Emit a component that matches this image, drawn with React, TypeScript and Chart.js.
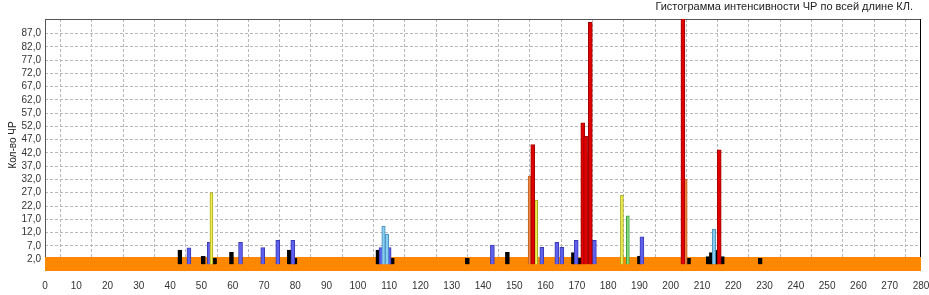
import React, { useEffect, useRef } from 'react';
import { Chart, registerables } from 'chart.js';

Chart.register(...registerables);

const titleText = 'Гистограмма интенсивности ЧР по всей длине КЛ.';
const yAxisTitle = 'Кол-во ЧР';

const yTickValues = [2, 7, 12, 17, 22, 27, 32, 37, 42, 47, 52, 57, 62, 67, 72, 77, 82, 87];
const xMin = 0;
const xMax = 280;
const xStep = 10;
const yMin = -2.5;
const yMax = 92.5;

// background noise level (orange band across the full length)
const noiseX = [0, 280];
const noiseY = [2.75, 2.75];

const blackX = [43.1, 50.6, 54.2, 59.6, 78.1, 79.9, 106.4, 111.0, 135.0, 147.8, 168.9, 170.8, 190.0, 205.7, 212.0, 213.0, 214.6, 216.5, 228.6];
const blackY = [5.4, 3.0, 2.3, 4.5, 5.4, 2.3, 5.4, 2.3, 2.3, 4.5, 4.4, 2.3, 3.1, 2.3, 2.9, 4.4, 5.4, 2.9, 2.3];

const blueX = [46.0, 52.5, 62.5, 69.6, 74.4, 79.2, 107.4, 110.0, 143.0, 158.8, 163.6, 165.2, 169.8, 175.6, 190.8];
const blueY = [6.2, 8.3, 8.3, 6.3, 9.1, 9.1, 6.3, 6.3, 7.3, 6.4, 8.3, 6.4, 9.1, 9.1, 10.4];

const lightBlueX = [108.2, 109.3, 213.8];
const lightBlueY = [14.4, 11.4, 13.3];

const redX = [155.9, 171.9, 172.8, 174.3, 203.9, 215.5];
const redY = [45.2, 53.4, 48.3, 91.2, 93, 43.2];

const orangeX = [154.9, 173.4, 204.8];
const orangeY = [33.3, 41.0, 32.1];

const yellowX = [53.2, 157.0, 184.4];
const yellowY = [27.1, 24.2, 26.1];

const greenX = [186.3];
const greenY = [18.3];

const pts = (xs: number[], ys: number[]) => xs.map((x, i) => ({ x, y: ys[i] }));

const barSet = (xs: number[], ys: number[], bg: string, border: string, thickness: number) => ({
  type: 'bar' as const,
  data: pts(xs, ys),
  backgroundColor: bg,
  borderColor: border,
  borderWidth: 1,
  barThickness: thickness,
  grouped: false,
  order: 1,
});

const FONT = "'Liberation Sans', Arial, sans-serif";

const framePlugin = {
  id: 'frame',
  beforeDatasetsDraw(chart: any) {
    const { ctx, chartArea: a } = chart;
    ctx.save();
    ctx.strokeStyle = '#555555';
    ctx.lineWidth = 1;
    ctx.strokeRect(a.left + 0.5, a.top + 0.5, a.right - a.left - 1, a.bottom - a.top - 1);
    ctx.strokeStyle = '#000000';
    ctx.beginPath();
    ctx.moveTo(a.right - 0.5, a.top);
    ctx.lineTo(a.right - 0.5, a.bottom);
    ctx.stroke();
    ctx.restore();
  },
};

const titlePlugin = {
  id: 'topTitle',
  afterDraw(chart: any) {
    const { ctx, chartArea: a } = chart;
    ctx.save();
    ctx.fillStyle = '#222222';
    ctx.font = `11px ${FONT}`;
    ctx.textAlign = 'right';
    ctx.textBaseline = 'middle';
    ctx.fillText(titleText, a.right - 8, 6.5);
    ctx.restore();
  },
};

export default function App() {
  const ref = useRef<HTMLCanvasElement | null>(null);

  useEffect(() => {
    if (!ref.current) return;
    const chart = new Chart(ref.current, {
      type: 'bar',
      data: {
        datasets: [
          barSet(redX, redY, '#e00000', '#a00000', 4),
          barSet(yellowX, yellowY, '#f0f050', '#a8a820', 3),
          barSet(greenX, greenY, '#80e080', '#40a040', 3),
          barSet(lightBlueX, lightBlueY, '#88ccf0', '#4a90c0', 3.5),
          barSet(orangeX, orangeY, '#ee8844', '#c06020', 3),
          barSet(blueX, blueY, '#6060f0', '#3a3ab0', 4),
          barSet(blackX, blackY, '#000000', '#000000', 4),
          {
            type: 'line' as const,
            data: pts(noiseX, noiseY),
            borderWidth: 0,
            borderColor: '#ff8800',
            backgroundColor: '#ff8800',
            pointRadius: 0,
            fill: 'start',
            order: 10,
          } as any,
        ],
      },
      options: {
        animation: false,
        responsive: true,
        maintainAspectRatio: false,
        layout: { padding: { top: 19, right: 3, bottom: 0, left: 0 } },
        plugins: {
          legend: { display: false },
          tooltip: { enabled: false },
          title: { display: false },
        },
        scales: {
          x: {
            type: 'linear',
            min: xMin,
            max: xMax,
            offset: false,
            afterFit: (scale: any) => {
              scale.height = 24;
              scale.paddingLeft = 0;
              scale.paddingRight = 8;
            },
            ticks: {
              stepSize: xStep,
              color: '#333333',
              font: { family: FONT, size: 10 },
              padding: 9,
              maxRotation: 0,
              autoSkip: false,
            },
            grid: {
              color: '#b8b8b8',
              drawTicks: false,
            },
            border: { display: false, dash: [3, 2] },
          },
          y: {
            type: 'linear',
            min: yMin,
            max: yMax,
            afterBuildTicks: (scale: any) => {
              scale.ticks = yTickValues.map((v) => ({ value: v }));
            },
            afterFit: (scale: any) => {
              scale.width = 45;
            },
            ticks: {
              color: '#333333',
              font: { family: FONT, size: 10 },
              padding: 4,
              autoSkip: false,
              callback: (v: any) => Number(v).toFixed(1).replace('.', ','),
            },
            grid: {
              color: '#b8b8b8',
              drawTicks: false,
            },
            border: { display: false, dash: [3, 2] },
            title: {
              display: true,
              text: yAxisTitle,
              color: '#222222',
              font: { family: FONT, size: 10 },
              padding: { top: 7, bottom: 0 },
            },
          },
        },
      } as any,
      plugins: [framePlugin, titlePlugin],
    });
    return () => chart.destroy();
  }, []);

  return (
    <div style={{ position: 'fixed', left: 0, top: 0, width: 929, height: 295, background: '#ffffff' }}>
      <canvas ref={ref} />
    </div>
  );
}
